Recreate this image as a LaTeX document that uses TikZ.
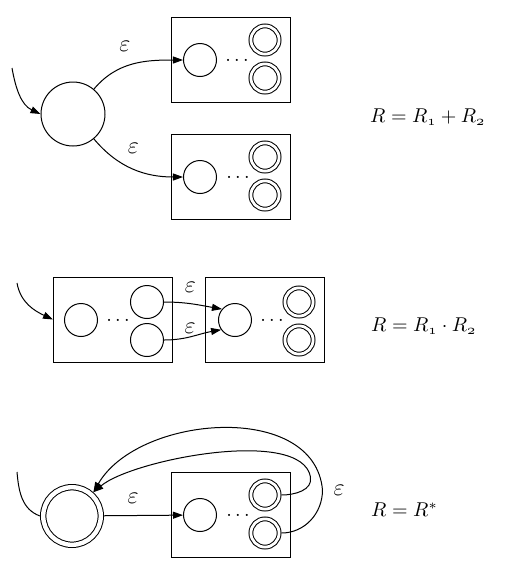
\documentclass[tikz,border=0pt]{standalone}
\usepackage{amsmath}
\usetikzlibrary{arrows.meta, positioning}

\begin{document}
\begin{tikzpicture}[
  x=0.5pt, y=-0.5pt, line width=0.5pt,
  state/.style={
    circle, draw, inner sep=0pt,
    minimum size=16.5pt
  },
  accept/.style={
    circle, draw, double, double distance=1.4pt,
    inner sep=0pt, outer sep=1.2pt,
    minimum size=14.1pt
  },
  bigstate/.style={
    circle, draw, inner sep=0pt,
    minimum size=32pt
  },
  bigaccept/.style={
    circle, draw, double, double distance=2.2pt,
    inner sep=0pt, outer sep=1.6pt,
    minimum size=28.8pt
  },
  nfa/.style={
    draw, inner sep=0pt,
    minimum width=59.5pt, minimum height=42.5pt
  },
  dots/.style={inner sep=1pt},
  eps/.style={font=\large},
  formula/.style={anchor=west},
  arr/.style={-{Triangle[length=5pt, width=3.5pt]}}
]
\useasboundingbox (0,0) rectangle (522,570);

%% R = R1 + R2
\coordinate (in1) at (12,68);
\node[bigstate] (q0) at (73,114) {};

\node[nfa] (b1) at (231.5,59.5) {};
\node[state] (s1) at (200,60) {};
\node[dots] (d1) at (237,60) {$\ldots$};
\node[accept] (f1a) at (265,40) {};
\node[accept] (f1b) at (265,78) {};

\node[nfa] (b2) at (231.5,176.5) {};
\node[state] (s2) at (200,177) {};
\node[dots] (d2) at (238,177) {$\ldots$};
\node[accept] (f2a) at (265,157) {};
\node[accept] (f2b) at (265,195) {};

\draw[arr] (in1) to[out=-80, in=155] (q0.180);
\draw[arr] (q0) to[out=50, in=180] node[eps, pos=.4, above=4pt] {$\varepsilon$} (s1);
\draw[arr] (q0) to[out=-50, in=180] node[eps, pos=.5, above=4pt] {$\varepsilon$} (s2);

\node[formula] (r1) at (363,117) {$R = R_{\mathnormal{1}} + R_{\mathnormal{2}}$};

%% R = R1 . R2
\coordinate (in2) at (17,283);
\node[nfa] (ba) at (113,319.5) {};
\node[state] (a0) at (81,320) {};
\node[dots] (da) at (118,320) {$\ldots$};
\node[state] (a1) at (147,302) {};
\node[state] (a2) at (147,340) {};

\node[nfa] (bb) at (265.5,319.5) {};
\node[state] (b0) at (235,320) {};
\node[dots] (db) at (272,320) {$\ldots$};
\node[accept] (g1) at (299,302) {};
\node[accept] (g2) at (299,340) {};

\draw[arr] (in2) to[out=-80, in=155] (ba.west);
\draw[arr] (a1.east) to[out=0, in=170] node[eps, pos=.45, above=2pt] {$\varepsilon$} (b0.140);
\draw[arr] (a2.east) to[out=0, in=190] node[eps, pos=.45, above=-2pt] {$\varepsilon$} (b0.215);

\node[formula] (r2) at (364,326) {$R = R_{\mathnormal{1}} \cdot R_{\mathnormal{2}}$};

%% R = R*
\coordinate (in3) at (17,472);
\node[bigaccept] (f0) at (72,516) {};

\node[nfa] (b3) at (231.5,514.5) {};
\node[state] (s3) at (200,515) {};
\node[dots] (d3) at (238,515) {$\ldots$};
\node[accept] (f3a) at (265,495) {};
\node[accept] (f3b) at (265,533) {};

\draw (in3) to[out=-85, in=160] (f0.180);
\draw[arr] (f0) -- node[eps, pos=.37, above=2.5pt] {$\varepsilon$} (s3);
\draw[arr] (f3a.east) to[out=0, in=-80] ++(29,-18)
  to[out=100, in=40, looseness=.6] (f0.48);
\draw[arr] (f3b.east) to[out=0, in=-90] ++(41,-43) node[eps, right=2pt] {$\varepsilon$}
  to[out=95, in=60] (f0.48);

\node[formula] (r3) at (364,510) {$R = R^*$};

\end{tikzpicture}
\end{document}
